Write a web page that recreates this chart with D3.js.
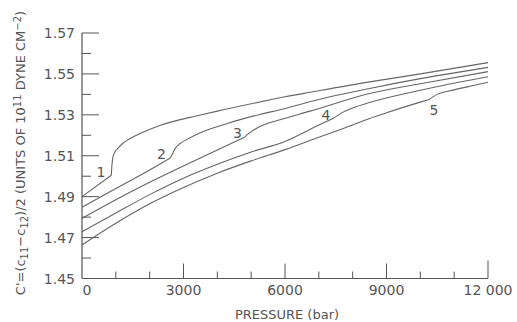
<!DOCTYPE html>
<html>
<head>
<meta charset="utf-8">
<script src="https://cdn.jsdelivr.net/npm/d3@7"></script>
<style>
  body { margin: 0; background: #fff; }
  text { font-family: "DejaVu Sans", sans-serif; fill: #555; }
</style>
</head>
<body>
<div id="chart"></div>
<script>
// pressure (bar) and C' values, one pair of arrays per curve
var curve1P = [0, 866, 885, 920, 980, 1070, 1200, 1400, 1800, 2300, 3500, 4000, 5260, 6000, 6740, 8500, 10000, 12000];
var curve1C = [1.4900, 1.5005, 1.5055, 1.5098, 1.5120, 1.5138, 1.5160, 1.5182, 1.5215, 1.5248, 1.5299, 1.5318, 1.5363, 1.5388, 1.5410, 1.5461, 1.5500, 1.5555];

var curve2P = [0, 1000, 2000, 2600, 2660, 2750, 2900, 3100, 3500, 4300, 5260, 5850, 7000, 8500, 10000, 12000];
var curve2C = [1.4848, 1.4940, 1.5030, 1.5088, 1.5105, 1.5135, 1.5160, 1.5180, 1.5213, 1.5258, 1.5302, 1.5325, 1.5375, 1.5429, 1.5477, 1.5532];

var curve3P = [0, 1000, 2000, 3000, 4000, 4800, 4950, 5200, 5850, 6740, 8500, 10000, 12000];
var curve3C = [1.4794, 1.4885, 1.4970, 1.5050, 1.5128, 1.5190, 1.5212, 1.5238, 1.5276, 1.5318, 1.5404, 1.5452, 1.5511];

var curve4P = [0, 1000, 2000, 3000, 4000, 5000, 6000, 7000, 7450, 7700, 8000, 8500, 10000, 12000];
var curve4C = [1.4728, 1.4820, 1.4910, 1.4990, 1.5058, 1.5118, 1.5170, 1.5250, 1.5285, 1.5312, 1.5333, 1.5360, 1.5420, 1.5486];

var curve5P = [0, 1000, 2000, 3000, 4000, 5000, 6000, 7000, 8000, 8500, 9000, 10000, 10250, 10500, 11000, 11500, 12000];
var curve5C = [1.4664, 1.4770, 1.4865, 1.4945, 1.5015, 1.5075, 1.5130, 1.5190, 1.5250, 1.5282, 1.5310, 1.5362, 1.5374, 1.5400, 1.5422, 1.5441, 1.5459];

// index of the point where each curve breaks upward
var kinkIndex = [1, 3, 5, 8, 12];

var curveNames = ["1", "2", "3", "4", "5"];
var labelP = [561, 2350, 4596, 7212, 10404];
var labelC = [1.4997, 1.5085, 1.5188, 1.5276, 1.5301];

var xMajor = [0, 3000, 6000, 9000, 12000];
var xMajorText = ["0", "3000", "6000", "9000", "12 000"];
var xMinor = [1000, 2000, 4000, 5000, 7000, 8000, 10000, 11000];
var yMajor = [1.45, 1.47, 1.49, 1.51, 1.53, 1.55, 1.57];
var yMinor = [1.46, 1.48, 1.50, 1.52, 1.54, 1.56];

var svgWidth = 517;
var svgHeight = 322;

var svg = d3.select("#chart")
  .append("svg")
  .attr("width", svgWidth)
  .attr("height", svgHeight);

var x = d3.scaleLinear().domain([0, 12000]).range([82, 488]);
var y = d3.scaleLinear().domain([1.45, 1.57]).range([278.5, 33]);

var ink = "#555";

// axes lines
svg.append("line")
  .attr("x1", x(0)).attr("x2", x(0))
  .attr("y1", y(1.45)).attr("y2", y(1.57))
  .attr("stroke", ink).attr("stroke-width", 1.2);
svg.append("line")
  .attr("x1", x(0)).attr("x2", x(12000))
  .attr("y1", y(1.45)).attr("y2", y(1.45))
  .attr("stroke", ink).attr("stroke-width", 1.2);

// y ticks point inward
svg.selectAll("line.ymaj")
  .data(yMajor.slice(1))
  .enter().append("line")
  .attr("x1", x(0)).attr("x2", x(0) + 17)
  .attr("y1", d => y(d)).attr("y2", d => y(d))
  .attr("stroke", ink).attr("stroke-width", 1);
svg.selectAll("line.ymin")
  .data(yMinor)
  .enter().append("line")
  .attr("x1", x(0)).attr("x2", x(0) + 9)
  .attr("y1", d => y(d)).attr("y2", d => y(d))
  .attr("stroke", ink).attr("stroke-width", 1);

svg.selectAll("text.ylab")
  .data(yMajor)
  .enter().append("text")
  .attr("x", 75)
  .attr("y", d => y(d))
  .attr("dy", "0.36em")
  .attr("text-anchor", "end")
  .style("font-size", "14px")
  .text(d => d.toFixed(2));

// x ticks point up
svg.selectAll("line.xmaj")
  .data(xMajor.slice(1))
  .enter().append("line")
  .attr("x1", d => x(d)).attr("x2", d => x(d))
  .attr("y1", y(1.45)).attr("y2", d => y(1.45) - (d == 12000 ? 18 : 15))
  .attr("stroke", ink).attr("stroke-width", 1);
svg.selectAll("line.xmin")
  .data(xMinor)
  .enter().append("line")
  .attr("x1", d => x(d)).attr("x2", d => x(d))
  .attr("y1", y(1.45)).attr("y2", y(1.45) - 7)
  .attr("stroke", ink).attr("stroke-width", 1);

svg.selectAll("text.xlab")
  .data(xMajor)
  .enter().append("text")
  .attr("x", (d, i) => x(d) + (i == 0 ? 5 : 0))
  .attr("y", 295)
  .attr("text-anchor", "middle")
  .style("font-size", "14px")
  .text((d, i) => xMajorText[i]);

svg.append("text")
  .attr("x", 287)
  .attr("y", 319)
  .attr("text-anchor", "middle")
  .style("font-size", "13px")
  .text("PRESSURE (bar)");

// rotated y label with sub/superscripts
var yTitle = svg.append("text")
  .attr("transform", "translate(25,153) rotate(-90)")
  .attr("text-anchor", "middle")
  .style("font-size", "13px");
yTitle.append("tspan").text("C'=(c");
yTitle.append("tspan").attr("baseline-shift", "-25%").style("font-size", "10px").text("11");
yTitle.append("tspan").text("\u2212c");
yTitle.append("tspan").attr("baseline-shift", "-25%").style("font-size", "10px").text("12");
yTitle.append("tspan").text(")/2 (UNITS OF 10");
yTitle.append("tspan").attr("baseline-shift", "40%").style("font-size", "10px").text("11");
yTitle.append("tspan").text(" DYNE CM");
yTitle.append("tspan").attr("baseline-shift", "40%").style("font-size", "10px").text("\u22122");
yTitle.append("tspan").text(")");

// curves: straight-ish part up to the kink, then the smooth rise, so the corner stays sharp
var allP = [curve1P, curve2P, curve3P, curve4P, curve5P];
var allC = [curve1C, curve2C, curve3C, curve4C, curve5C];

var line = d3.line()
  .x(d => x(d[0]))
  .y(d => y(d[1]))
  .curve(d3.curveMonotoneX);

allP.forEach(function(ps, i) {
  var pts = ps.map((p, j) => [p, allC[i][j]]);
  var k = kinkIndex[i];
  [pts.slice(0, k + 1), pts.slice(k)].forEach(function(seg) {
    svg.append("path")
      .attr("d", line(seg))
      .attr("fill", "none")
      .attr("stroke", "#666")
      .attr("stroke-width", 1.1);
  });
});

svg.selectAll("text.clab")
  .data(curveNames)
  .enter().append("text")
  .attr("x", (d, i) => x(labelP[i]))
  .attr("y", (d, i) => y(labelC[i]))
  .attr("text-anchor", "middle")
  .style("font-size", "14px")
  .text(d => d);
</script>
</body>
</html>
